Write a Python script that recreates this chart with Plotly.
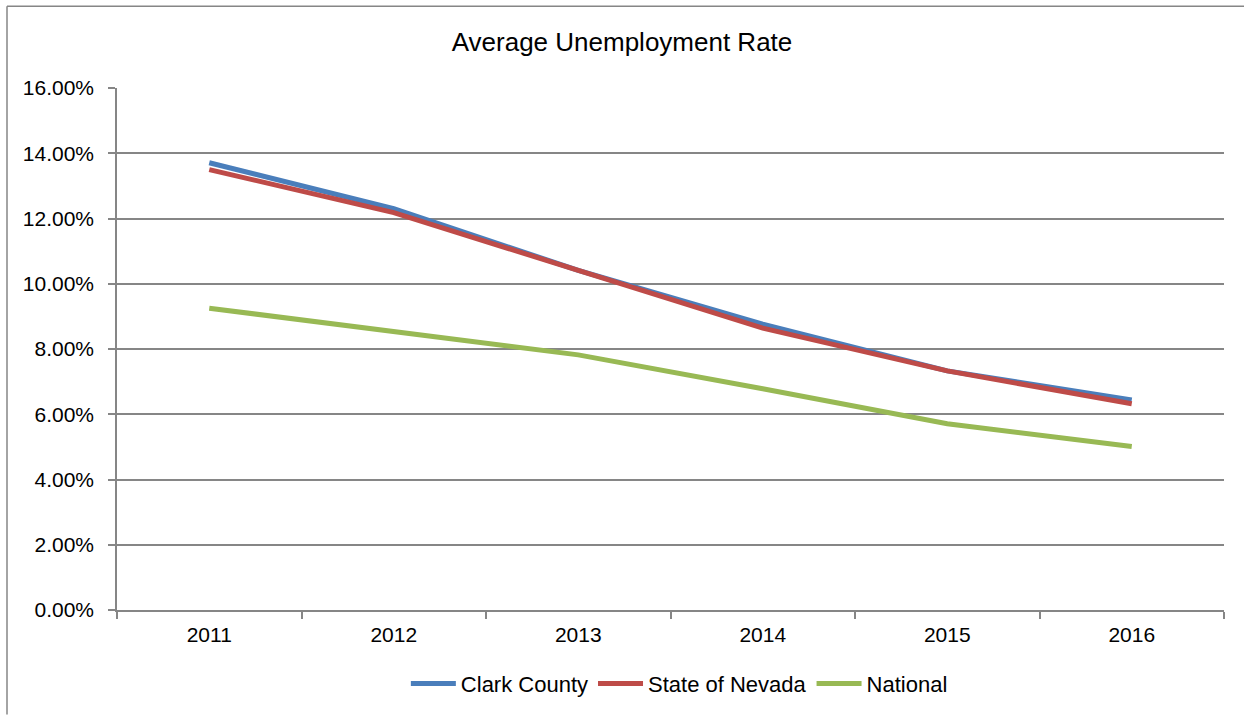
import plotly.graph_objects as go

years = ["2011", "2012", "2013", "2014", "2015", "2016"]
clark_county = [0.1371, 0.1230, 0.1041, 0.0876, 0.0733, 0.0644]
state_of_nevada = [0.1350, 0.1218, 0.1041, 0.0864, 0.0733, 0.0632]
national = [0.0925, 0.0852, 0.0782, 0.0678, 0.0571, 0.0501]

series = [
    ("Clark County", clark_county, "#4A7EBB"),
    ("State of Nevada", state_of_nevada, "#BE4B48"),
    ("National", national, "#98B954"),
]

fig = go.Figure()
for name, vals, color in series:
    fig.add_trace(go.Scatter(
        x=years, y=vals, name=name, mode="lines",
        line=dict(color=color, width=5),
    ))

font_family = "Liberation Sans, Arial, sans-serif"

fig.update_layout(
    width=1244, height=717,
    margin=dict(l=117, r=20, t=88, b=105),
    paper_bgcolor="white", plot_bgcolor="white",
    font=dict(family=font_family, size=21, color="black"),
    title=dict(text="Average Unemployment Rate", x=0.5, xanchor="center",
               y=0.941, yanchor="middle", font=dict(size=26, color="black")),
    showlegend=True,
    legend=dict(orientation="h", x=0.508, xanchor="center", y=-0.141, yanchor="middle",
                font=dict(size=22), itemwidth=45, traceorder="normal"),
    xaxis=dict(
        type="category", tickson="boundaries", ticks="outside", ticklen=7,
        tickcolor="#868686", tickwidth=1.5,
        showline=True, linecolor="#868686", linewidth=1.5,
        showgrid=False, range=[-0.5, 5.5], fixedrange=True,
        ticklabelstandoff=5,
    ),
    yaxis=dict(
        range=[0, 0.16], dtick=0.02, tickformat=".2%",
        ticks="outside", ticklen=7, tickcolor="#868686", tickwidth=1.5,
        showline=True, linecolor="#868686", linewidth=1.5,
        showgrid=True, gridcolor="#868686", gridwidth=1.5,
        zeroline=False, ticklabelstandoff=10,
    ),
    shapes=[
        dict(type="line", xref="paper", yref="paper", x0=(7-117)/1107, x1=(1244-117)/1107,
             y0=(612-6)/524, y1=(612-6)/524, line=dict(color="#868686", width=1.5)),
        dict(type="line", xref="paper", yref="paper", x0=(7-117)/1107, x1=(7-117)/1107,
             y0=(612-6)/524, y1=(612-717)/524, line=dict(color="#868686", width=1.5)),
    ],
)

fig.write_html("out.html")
